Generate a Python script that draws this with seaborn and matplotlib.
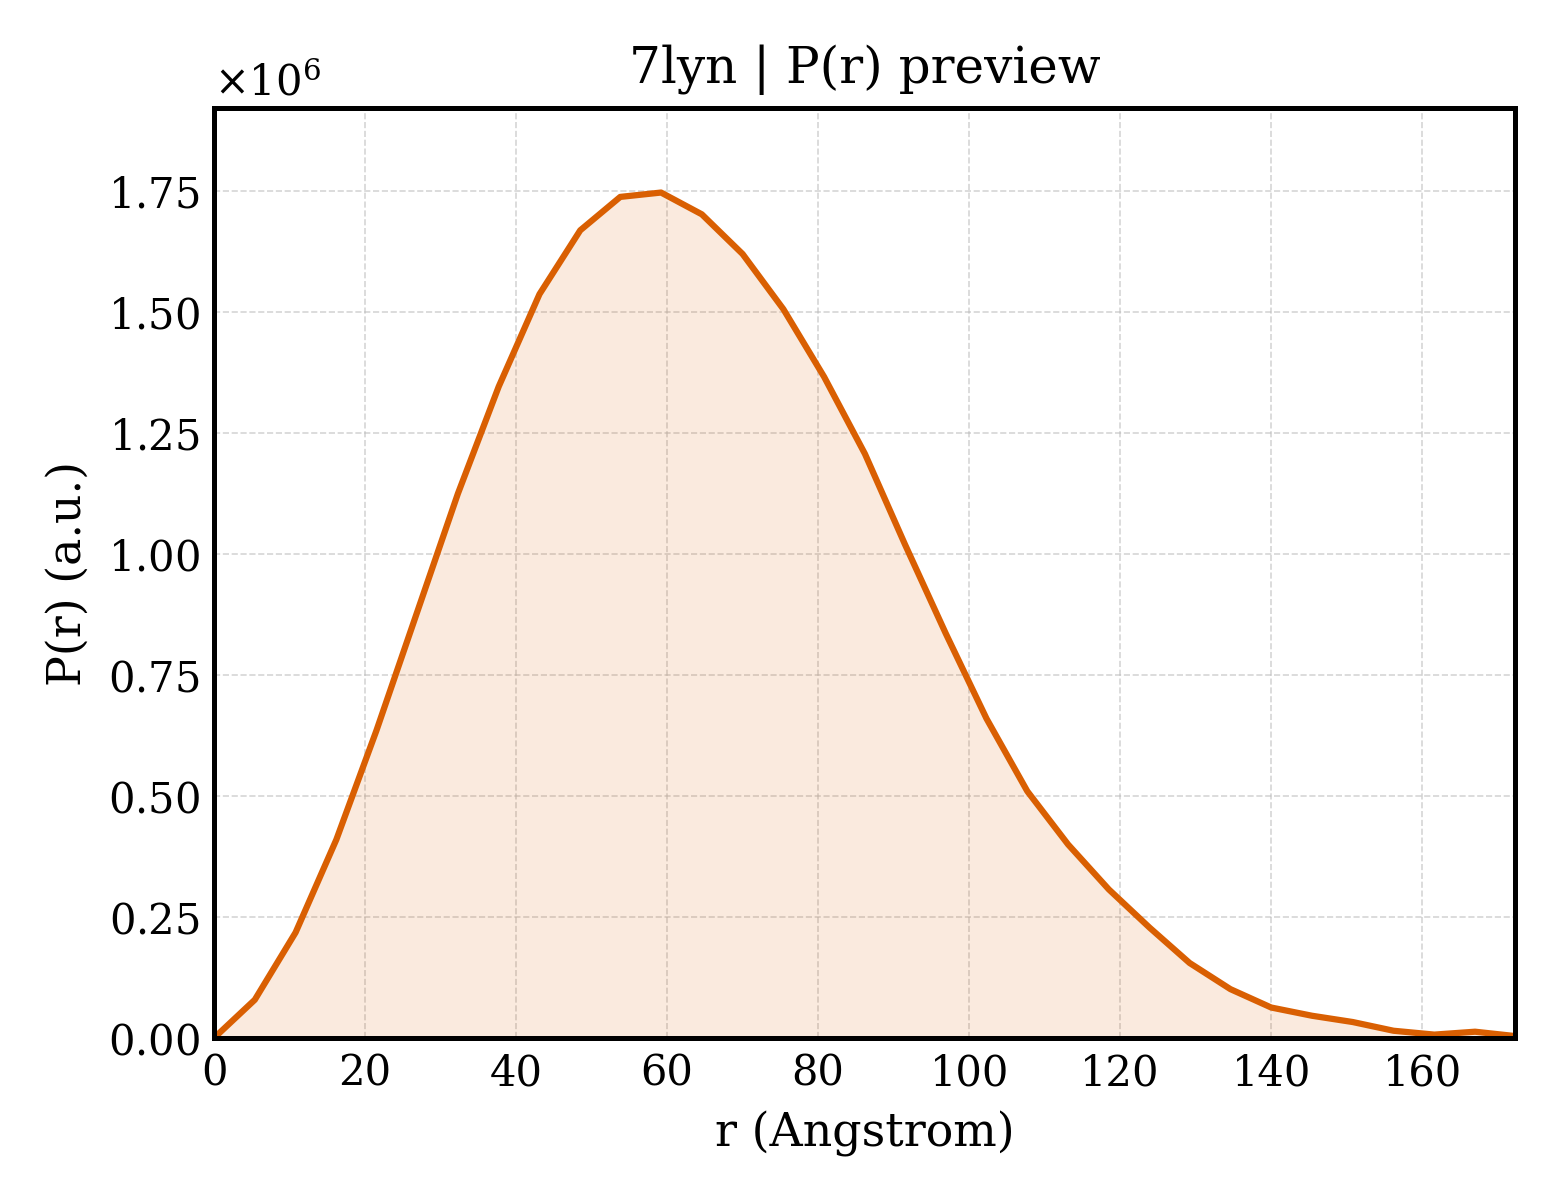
import matplotlib
matplotlib.use("Agg")
import matplotlib.pyplot as plt
import seaborn as sns
import pandas as pd

# P(r) preview values (r in Angstrom, P in units of 1e6)
r_vals = [0.0, 5.4, 10.8, 16.2, 21.5, 26.9, 32.3, 37.7, 43.1, 48.5, 53.8,
          59.2, 64.6, 70.0, 75.4, 80.8, 86.2, 91.5, 96.9, 102.3, 107.7,
          113.1, 118.5, 123.9, 129.2, 134.6, 140.0, 145.4, 150.8, 156.2,
          161.6, 167.0, 172.3]
p_vals_1e6 = [0.0, 0.079, 0.218, 0.41, 0.635, 0.88, 1.125, 1.346, 1.537,
              1.669, 1.738, 1.747, 1.702, 1.620, 1.506, 1.366, 1.207, 1.02,
              0.836, 0.660, 0.510, 0.400, 0.307, 0.228, 0.155, 0.101, 0.063,
              0.046, 0.033, 0.015, 0.007, 0.013, 0.004]

df = pd.DataFrame({"r": r_vals, "P": [v * 1e6 for v in p_vals_1e6]})

sns.set_theme(style="white", rc={"text.color": "black", "axes.labelcolor": "black",
                                 "xtick.color": "black", "ytick.color": "black"})
plt.rcParams['font.family'] = ['DejaVu Serif']
plt.rcParams['mathtext.fontset'] = 'dejavuserif'

color = "#D95F02"

fig, ax = plt.subplots(figsize=(5.2, 4), dpi=300)
fig.subplots_adjust(left=0.1372, right=0.9712, top=0.91, bottom=0.135)
ax.fill_between(df["r"], df["P"], color=color, alpha=0.13, linewidth=0)
sns.lineplot(data=df, x="r", y="P", color=color, linewidth=1.5, ax=ax)

ax.set_xlim(0, df["r"].max())
ax.set_ylim(0, df["P"].max() * 1.1)
ax.set_title("7lyn | P(r) preview", fontsize=12, color="black")
ax.set_xlabel("r (Angstrom)", fontsize=11)
ax.set_ylabel("P(r) (a.u.)", fontsize=11)

ax.ticklabel_format(axis="y", style="sci", scilimits=(0, 0), useMathText=True)
ax.yaxis.get_offset_text().set_fontsize(10)
ax.tick_params(direction="in", length=4, width=1, labelsize=10, colors="black")
ax.grid(True, linestyle="--", linewidth=0.4, color="#BBBBBB", alpha=0.6)
for sp in ax.spines.values():
    sp.set_color("black")
    sp.set_linewidth(1.2)

fig.savefig("out.png", dpi=300)
